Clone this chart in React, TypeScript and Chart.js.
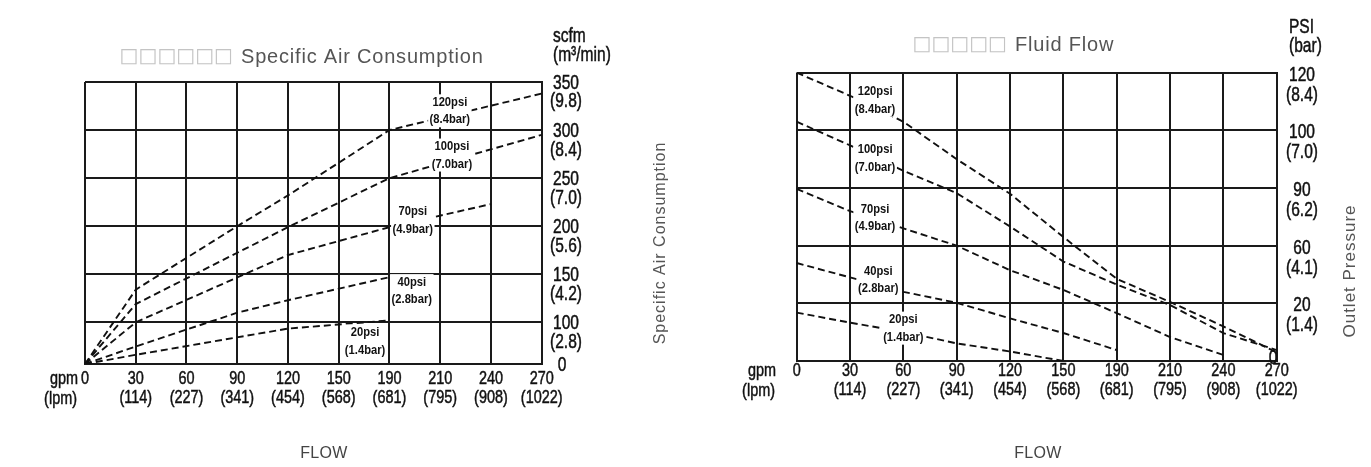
import React, { useEffect, useRef } from 'react';
import { Chart, registerables } from 'chart.js';

Chart.register(...registerables);

// ---------- shared x axis (flow) ----------
const FLOW_GPM = ['0', '30', '60', '90', '120', '150', '190', '210', '240', '270'];
const FLOW_LPM = ['', '(114)', '(227)', '(341)', '(454)', '(568)', '(681)', '(795)', '(908)', '(1022)'];

// ---------- left chart: specific air consumption (scfm) ----------
const AIR_TICK_SCFM = [0, 100, 150, 200, 250, 300, 350];
const AIR_TICK_M3 = ['', '(2.8)', '(4.2)', '(5.6)', '(7.0)', '(8.4)', '(9.8)'];
const AIR_NAMES = ['120psi', '100psi', '70psi', '40psi', '20psi'];
const AIR_BARS = ['(8.4bar)', '(7.0bar)', '(4.9bar)', '(2.8bar)', '(1.4bar)'];
const AIR_120 = [0, 134, null, 200, 232, null, 300, null, null, 338];
const AIR_100 = [0, 119, null, null, 199, null, 250, null, null, 295];
const AIR_70 = [0, 100, null, null, 170, null, 199, null, 223, null];
const AIR_40 = [0, 42, null, 110, 123, null, 147, null, null, null];
const AIR_20 = [0, 22, null, null, 85, null, 102, null, null, null];
const AIR_LABEL_X = [7.19, 7.23, 6.46, 6.44, 5.52];
const AIR_LABEL_Y = [320, 274, 206, 133, 55];

// ---------- right chart: fluid flow (outlet pressure, psi) ----------
const FLUID_TICK_PSI = [0, 20, 60, 90, 100, 120];
const FLUID_TICK_BAR = ['', '(1.4)', '(4.1)', '(6.2)', '(7.0)', '(8.4)'];
const FLUID_NAMES = ['120psi', '100psi', '70psi', '40psi', '20psi'];
const FLUID_BARS = ['(8.4bar)', '(7.0bar)', '(4.9bar)', '(2.8bar)', '(1.4bar)'];
const FLUID_120 = [120, 112, 103, 95, 87, 64.5, 37, 21, 12, 3];
const FLUID_100 = [103, 97.4, 93, 87.3, 70, 49, 33, 19.4, 9.7, 3.8];
const FLUID_70 = [89.5, 78, 69, 60, 43, 29.3, 16.6, 8.3, 2.1, null];
const FLUID_40 = [48, 38, 28, 20.4, 14.8, 9.7, 3.8, null, null, null];
const FLUID_20 = [16.8, 13.3, 10.1, 6.1, 3.3, 0, null, null, null, null];
const FLUID_LABEL_X = [1.47, 1.47, 1.47, 1.53, 2.0];
const FLUID_LABEL_Y = [110.5, 95.2, 74.4, 36.2, 11.4];

// ---------- layout / style ----------
const AIR_TICK_POS = [0, 0.867, 1.867, 2.867, 3.867, 4.867, 5.867];
const FLUID_TICK_POS = [0, 1, 2, 3, 4, 5];

const SANS = "'Liberation Sans', Arial, Helvetica, sans-serif";
const BOXFONT = "'DejaVu Sans', sans-serif";
const INK = '#111';
const GRID = '#1a1a1a';

function toAxis(v: number | null, vals: number[], pos: number[]): number | null {
  if (v === null || v === undefined) return null;
  for (let i = 1; i < vals.length; i++) {
    if (v <= vals[i]) {
      const t = (v - vals[i - 1]) / (vals[i] - vals[i - 1]);
      return pos[i - 1] + t * (pos[i] - pos[i - 1]);
    }
  }
  return pos[pos.length - 1];
}

// narrow (condensed) text: regular face squeezed horizontally, slightly emboldened
function narrow(
  ctx: CanvasRenderingContext2D,
  s: string,
  x: number,
  y: number,
  font: string,
  sx: number,
  align: CanvasTextAlign,
  stroke = 0.5
) {
  ctx.save();
  ctx.font = font;
  ctx.textAlign = align;
  ctx.textBaseline = 'middle';
  ctx.translate(x, y);
  ctx.scale(sx, 1);
  ctx.fillStyle = INK;
  ctx.fillText(s, 0, 0);
  if (stroke > 0) {
    ctx.strokeStyle = INK;
    ctx.lineWidth = stroke;
    ctx.strokeText(s, 0, 0);
  }
  ctx.restore();
}

type Spec = {
  width: number;
  padding: { left: number; top: number; right: number; bottom: number };
  yWidth: number;
  xHeight: number;
  yLabelX: number;
  yFirstDy: number;
  yLineGap: number;
  xFirstY: number;
  xLineGap: number;
  tickVals: number[];
  tickPos: number[];
  tickSub: string[];
  series: (number | null)[][];
  names: string[];
  bars: string[];
  labelX: number[];
  labelY: number[];
  titleBoxes: string;
  title: string;
  titleX: number;
  titleY: number;
  unitTop: string;
  unitBottom: string;
  unitX: number;
  unitY: number;
  gpmX: number;
  flowX: number;
  flowY: number;
  yTitle: string;
  yTitleX: number;
  yTitleY: number;
  yTitleSize: number;
  zeroX: number;
  zeroY: number;
};

const AIR_SPEC: Spec = {
  width: 685,
  padding: { left: 85, top: 82, right: 83.3, bottom: 53 },
  yWidth: 60,
  xHeight: 50,
  yLabelX: 566,
  yFirstDy: 1,
  yLineGap: 18.7,
  xFirstY: 379,
  xLineGap: 19,
  tickVals: AIR_TICK_SCFM,
  tickPos: AIR_TICK_POS,
  tickSub: AIR_TICK_M3,
  series: [AIR_120, AIR_100, AIR_70, AIR_40, AIR_20],
  names: AIR_NAMES,
  bars: AIR_BARS,
  labelX: AIR_LABEL_X,
  labelY: AIR_LABEL_Y,
  titleBoxes: '□□□□□□',
  title: 'Specific Air Consumption',
  titleX: 241,
  titleY: 57,
  unitTop: 'scfm',
  unitBottom: '(m³/min)',
  unitX: 553,
  unitY: 36,
  gpmX: 78,
  flowX: 324,
  flowY: 454,
  yTitle: 'Specific Air Consumption',
  yTitleX: 661,
  yTitleY: 243,
  yTitleSize: 16,
  zeroX: 562,
  zeroY: 365,
};

const FLUID_SPEC: Spec = {
  width: 686,
  padding: { left: 111.7, top: 72.7, right: 34.3, bottom: 56 },
  yWidth: 60,
  xHeight: 50,
  yLabelX: 617,
  yFirstDy: 2.3,
  yLineGap: 20,
  xFirstY: 371,
  xLineGap: 18.5,
  tickVals: FLUID_TICK_PSI,
  tickPos: FLUID_TICK_POS,
  tickSub: FLUID_TICK_BAR,
  series: [FLUID_120, FLUID_100, FLUID_70, FLUID_40, FLUID_20],
  names: FLUID_NAMES,
  bars: FLUID_BARS,
  labelX: FLUID_LABEL_X,
  labelY: FLUID_LABEL_Y,
  titleBoxes: '□□□□□',
  title: 'Fluid Flow',
  titleX: 330,
  titleY: 45,
  unitTop: 'PSI',
  unitBottom: '(bar)',
  unitX: 604,
  unitY: 27,
  gpmX: 91,
  flowX: 353,
  flowY: 454,
  yTitle: 'Outlet Pressure',
  yTitleX: 665,
  yTitleY: 271,
  yTitleSize: 17,
  zeroX: 588,
  zeroY: 358,
};

const Y_FONT = `21px ${SANS}`;
const Y_SX = 0.74;
const X_FONT = `19px ${SANS}`;
const X_SX = 0.76;
const TAG_FONT = `bold 13.5px ${SANS}`;
const TAG_SX = 0.83;

function makeDecor(spec: Spec) {
  return {
    id: 'decor',
    afterDatasetsDraw(chart: any) {
      const ctx = chart.ctx as CanvasRenderingContext2D;
      const xs = chart.scales.x;
      const ys = chart.scales.y;
      ctx.save();
      ctx.font = TAG_FONT;
      const lh = 17.5;
      spec.names.forEach((n, i) => {
        const px = xs.getPixelForValue(spec.labelX[i]);
        const py = ys.getPixelForValue(toAxis(spec.labelY[i], spec.tickVals, spec.tickPos));
        ctx.font = TAG_FONT;
        const w = Math.max(ctx.measureText(n).width, ctx.measureText(spec.bars[i]).width) * TAG_SX + 3;
        ctx.fillStyle = '#fff';
        ctx.fillRect(px - w / 2, py - lh + 1, w, lh * 2 - 2);
        narrow(ctx, n, px, py - lh / 2, TAG_FONT, TAG_SX, 'center', 0);
        narrow(ctx, spec.bars[i], px, py + lh / 2, TAG_FONT, TAG_SX, 'center', 0);
      });
      ctx.restore();
    },
    afterDraw(chart: any) {
      const ctx = chart.ctx as any;
      const xs = chart.scales.x;
      const ys = chart.scales.y;
      ctx.save();

      // x tick labels (gpm over lpm)
      FLOW_GPM.forEach((g, i) => {
        const px = xs.getPixelForTick(i);
        narrow(ctx, g, px, spec.xFirstY, X_FONT, X_SX, 'center');
        if (FLOW_LPM[i]) narrow(ctx, FLOW_LPM[i], px, spec.xFirstY + spec.xLineGap, X_FONT, X_SX, 'center');
      });
      narrow(ctx, 'gpm', spec.gpmX, spec.xFirstY, X_FONT, X_SX, 'right');
      narrow(ctx, '(lpm)', spec.gpmX - 1, spec.xFirstY + spec.xLineGap + 1, X_FONT, X_SX, 'right');

      // y tick labels
      spec.tickVals.forEach((v, i) => {
        if (i === 0) return;
        const py = ys.getPixelForValue(spec.tickPos[i]);
        narrow(ctx, String(v), spec.yLabelX, py + spec.yFirstDy, Y_FONT, Y_SX, 'center');
        narrow(ctx, spec.tickSub[i], spec.yLabelX, py + spec.yFirstDy + spec.yLineGap, Y_FONT, Y_SX, 'center');
      });
      narrow(ctx, String(spec.tickVals[0]), spec.zeroX, spec.zeroY, Y_FONT, Y_SX, 'center');

      // axis units (top of right axis)
      narrow(ctx, spec.unitTop, spec.unitX, spec.unitY, Y_FONT, Y_SX, 'left');
      narrow(ctx, spec.unitBottom, spec.unitX, spec.unitY + 19, Y_FONT, Y_SX, 'left');

      ctx.textBaseline = 'middle';
      // chart title: missing-glyph boxes + text
      ctx.letterSpacing = '0px';
      ctx.font = `20px ${BOXFONT}`;
      ctx.fillStyle = '#c4c4c4';
      ctx.textAlign = 'right';
      ctx.fillText(spec.titleBoxes, spec.titleX - 8, spec.titleY);
      ctx.letterSpacing = '0.8px';
      ctx.font = `20px ${SANS}`;
      ctx.fillStyle = '#555';
      ctx.textAlign = 'left';
      ctx.fillText(spec.title, spec.titleX, spec.titleY);

      // FLOW
      ctx.font = `16px ${SANS}`;
      ctx.fillStyle = '#444';
      ctx.textAlign = 'center';
      ctx.letterSpacing = '0.3px';
      ctx.fillText('FLOW', spec.flowX, spec.flowY);

      // rotated y title
      ctx.translate(spec.yTitleX, spec.yTitleY);
      ctx.rotate(-Math.PI / 2);
      ctx.letterSpacing = '1px';
      ctx.font = `${spec.yTitleSize}px ${SANS}`;
      ctx.fillStyle = '#555';
      ctx.textAlign = 'center';
      ctx.fillText(spec.yTitle, 0, 0);
      ctx.restore();
    },
  };
}

function buildConfig(spec: Spec): any {
  const last = spec.tickPos[spec.tickPos.length - 1];
  return {
    type: 'line',
    data: {
      labels: FLOW_GPM,
      datasets: spec.series.map((s, i) => ({
        label: spec.names[i],
        data: s.map((v) => toAxis(v, spec.tickVals, spec.tickPos)),
        borderColor: INK,
        borderWidth: 1.9,
        borderDash: [7, 4],
        pointRadius: 0,
        fill: false,
        tension: 0,
        spanGaps: true,
      })),
    },
    options: {
      responsive: false,
      animation: false,
      events: [],
      layout: { padding: spec.padding },
      plugins: {
        legend: { display: false },
        title: { display: false },
        tooltip: { enabled: false },
      },
      scales: {
        x: {
          type: 'category',
          offset: false,
          grid: { offset: false, color: GRID, lineWidth: 2, drawTicks: false },
          border: { display: true, color: GRID, width: 2 },
          ticks: { display: false, autoSkip: false, maxRotation: 0 },
          afterFit: (scale: any) => {
            scale.height = spec.xHeight;
          },
        },
        y: {
          type: 'linear',
          position: 'right',
          min: 0,
          max: last,
          grid: { color: GRID, lineWidth: 2, drawTicks: false },
          border: { display: true, color: GRID, width: 2 },
          afterBuildTicks: (scale: any) => {
            scale.ticks = spec.tickPos.map((v) => ({ value: v }));
          },
          afterFit: (scale: any) => {
            scale.width = spec.yWidth;
          },
          ticks: { display: false },
        },
      },
    },
    plugins: [makeDecor(spec)],
  };
}

function PumpChart({ spec }: { spec: Spec }) {
  const ref = useRef<HTMLCanvasElement | null>(null);
  useEffect(() => {
    if (!ref.current) return;
    const chart = new Chart(ref.current, buildConfig(spec));
    return () => chart.destroy();
  }, [spec]);
  return (
    <div style={{ width: spec.width, height: 467, position: 'relative' }}>
      <canvas ref={ref} width={spec.width} height={467} style={{ display: 'block' }} />
    </div>
  );
}

export default function App() {
  return (
    <div
      style={{
        position: 'fixed',
        left: 0,
        top: 0,
        width: 1371,
        height: 467,
        display: 'flex',
        background: '#fff',
      }}
    >
      <PumpChart spec={AIR_SPEC} />
      <PumpChart spec={FLUID_SPEC} />
    </div>
  );
}
